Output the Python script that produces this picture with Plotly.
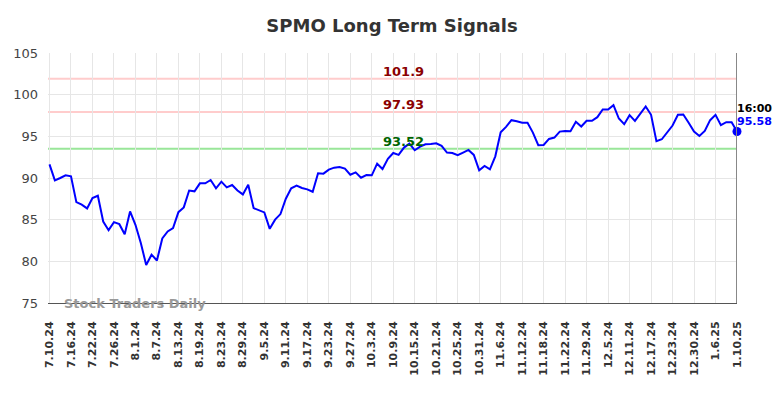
import plotly.graph_objects as go

tick_labels = ["7.10.24", "7.16.24", "7.22.24", "7.26.24", "8.1.24", "8.7.24", "8.13.24",
               "8.19.24", "8.23.24", "8.29.24", "9.5.24", "9.11.24", "9.17.24", "9.23.24",
               "9.27.24", "10.3.24", "10.9.24", "10.15.24", "10.21.24", "10.25.24",
               "10.31.24", "11.6.24", "11.12.24", "11.18.24", "11.22.24", "11.29.24",
               "12.5.24", "12.11.24", "12.17.24", "12.23.24", "12.30.24", "1.6.25", "1.10.25"]

prices = [91.64, 89.72, 90.0, 90.32, 90.2, 87.11, 86.8, 86.35, 87.6, 87.87,
          84.78, 83.74, 84.7, 84.46, 83.26, 85.99, 84.38, 82.2, 79.57, 80.8,
          80.1, 82.74, 83.58, 83.98, 85.9, 86.47, 88.5, 88.4, 89.36, 89.36,
          89.76, 88.76, 89.56, 88.88, 89.16, 88.5, 88.03, 89.2, 86.39, 86.15,
          85.87, 83.9, 85.0, 85.67, 87.51, 88.76, 89.08, 88.8, 88.64, 88.35,
          90.56, 90.52, 91.0, 91.24, 91.32, 91.12, 90.4, 90.68, 90.04, 90.36,
          90.32, 91.72, 91.08, 92.3, 93.0, 92.78, 93.65, 94.13, 93.33, 93.77,
          94.05, 94.09, 94.17, 93.85, 93.05, 93.0, 92.73, 93.05, 93.37, 92.77,
          90.92, 91.44, 91.04, 92.6, 95.49, 96.14, 96.94, 96.82, 96.62, 96.62,
          95.45, 93.93, 93.97, 94.69, 94.85, 95.57, 95.65, 95.61, 96.74, 96.18,
          96.86, 96.86, 97.3, 98.22, 98.22, 98.74, 97.14, 96.46, 97.54, 96.86,
          97.78, 98.58, 97.58, 94.41, 94.65, 95.53, 96.3, 97.58, 97.62, 96.62,
          95.57, 95.05, 95.65, 96.94, 97.58, 96.34, 96.7, 96.7, 95.58]

signal_levels = [101.9, 97.93, 93.52]
signal_texts = ["101.9", "97.93", "93.52"]
signal_line_colors = ["#ffcccc", "#ffcccc", "#99e699"]
signal_text_colors = ["#8b0000", "#8b0000", "#006400"]

last_time = "16:00"
tick_step = 4

x = list(range(len(prices)))
tickvals = [i * tick_step for i in range(len(tick_labels))]
n_last = x[-1]

fig = go.Figure()
fig.add_trace(go.Scatter(x=x, y=prices, mode="lines",
                         line=dict(color="#0000ff", width=2), hoverinfo="skip",
                         showlegend=False))
fig.add_trace(go.Scatter(x=[n_last], y=[prices[-1]], mode="markers", cliponaxis=False,
                         marker=dict(color="#0000ff", size=9), showlegend=False))

for lvl, txt, lc, tc in zip(signal_levels, signal_texts, signal_line_colors, signal_text_colors):
    fig.add_shape(type="line", xref="paper", x0=0, x1=1, yref="y", y0=lvl, y1=lvl,
                  line=dict(color=lc, width=2), layer="below")
    fig.add_annotation(x=66, y=lvl, xref="x", yref="y", text=txt, showarrow=False,
                       yanchor="bottom", yshift=-2, xanchor="center",
                       font=dict(family="DejaVu Sans", size=13, color=tc, weight="bold"))

fig.add_shape(type="line", xref="x", x0=n_last, x1=n_last, yref="paper", y0=0, y1=1,
              line=dict(color="#888888", width=2))

fig.add_annotation(x=n_last, y=prices[-1], xref="x", yref="y", text=last_time,
                   showarrow=False, xanchor="left", yanchor="bottom", yshift=15, xshift=-2,
                   font=dict(family="DejaVu Sans", size=11, color="#000000", weight="bold"))
fig.add_annotation(x=n_last, y=prices[-1], xref="x", yref="y", text=f"{prices[-1]:.2f}",
                   showarrow=False, xanchor="left", yanchor="bottom", yshift=2, xshift=-2,
                   font=dict(family="DejaVu Sans", size=11, color="#0000ff", weight="bold"))

fig.add_annotation(x=0.02, y=0, xref="paper", yref="paper", text="Stock Traders Daily",
                   showarrow=False, xanchor="left", yanchor="middle",
                   font=dict(family="DejaVu Sans", size=13, color="#999999", weight="bold"))

fig.update_layout(
    width=784, height=398,
    margin=dict(l=48, r=47, t=53, b=95),
    paper_bgcolor="white", plot_bgcolor="white",
    title=dict(text="SPMO Long Term Signals", x=0.5, xanchor="center", y=0.935, yanchor="middle",
               font=dict(family="DejaVu Sans", size=18, color="#333333", weight="bold")),
    font=dict(family="DejaVu Sans"),
    xaxis=dict(range=[-0.28, n_last], tickmode="array", tickvals=tickvals, ticktext=tick_labels,
               tickangle=-90, showgrid=True, gridcolor="#e6e6e6", gridwidth=1,
               showline=True, linecolor="#555555", linewidth=1, zeroline=False,
               tickfont=dict(size=11, color="#333333", weight="bold"), ticks="",
               ticklabelstandoff=13),
    yaxis=dict(range=[75, 105], tickvals=[75, 80, 85, 90, 95, 100, 105],
               showgrid=True, gridcolor="#e6e6e6", gridwidth=1, zeroline=False,
               tickfont=dict(size=13, color="#444444"), ticks="", ticklen=0,
               ticklabelstandoff=9),
)

fig.write_html("out.html", config={"displayModeBar": False},
               post_script="document.body.style.margin='0';")
